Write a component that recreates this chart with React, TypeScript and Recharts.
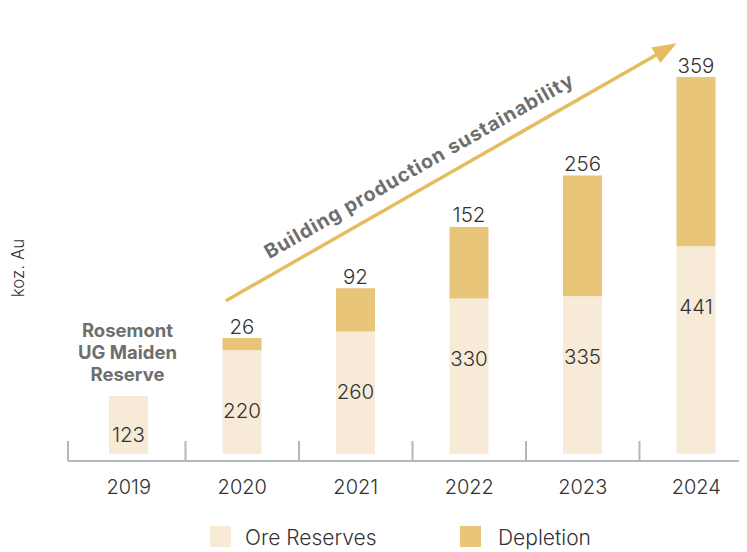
import React from "react";
import { BarChart, Bar, XAxis, YAxis, LabelList } from "recharts";

const years = ["2019", "2020", "2021", "2022", "2023", "2024"];
const oreReserves = [123, 220, 260, 330, 335, 441];
const depletion: (number | null)[] = [null, 26, 92, 152, 256, 359];
const seriesNames = ["Ore Reserves", "Depletion"];
const yAxisTitle = "koz. Au";
const arrowText = "Building production sustainability";
const noteLines = ["Rosemont", "UG Maiden", "Reserve"];

const data = years.map((y, i) => ({
  year: y,
  ore: oreReserves[i],
  dep: depletion[i],
}));

const FONT = "Inter, 'Noto Sans', sans-serif";
const ORE = "#f7ebd7";
const DEP = "#e9c57a";
const GOLD = "#e5bc5f";
const TEXT = "#333333";
const NOTE = "#6e6e6e";
const AXIS = "#b4b7bb";
const LIGHT = 300;

const CHART_W = 760;
const CHART_H = 552;
const M = { top: 30, right: 7, left: 72, bottom: 58 };
const BAND = (CHART_W - M.left - M.right) / years.length;

const Tick = (props: any) => {
  const { x, y, payload, index } = props;
  const left = x - BAND / 2;
  const right = x + BAND / 2;
  return (
    <g>
      <line x1={index === 0 ? left - 4 : left} x2={right} y1={y + 7} y2={y + 7} stroke={AXIS} strokeWidth={2} />
      <line x1={index === 0 ? left - 4 : left} x2={index === 0 ? left - 4 : left} y1={y - 13} y2={y + 7} stroke={AXIS} strokeWidth={2} />
      <text x={x} y={y + 33} textAnchor="middle" dominantBaseline="central" fontSize={20} fontWeight={LIGHT} fill={TEXT} fontFamily={FONT}>
        {payload.value}
      </text>
    </g>
  );
};

const OreLabel = (props: any) => {
  const { x, y, width, height, value } = props;
  if (value == null) return null;
  const cy = Math.min(y + 60, y + height - 20);
  return (
    <text x={x + width / 2} y={cy} textAnchor="middle" dominantBaseline="central" fontSize={20.5} fontWeight={LIGHT} fill={TEXT} fontFamily={FONT}>
      {value}
    </text>
  );
};

const DepLabel = (props: any) => {
  const { x, y, width, value } = props;
  if (!value) return null;
  return (
    <text x={x + width / 2} y={y - 12} textAnchor="middle" dominantBaseline="central" fontSize={20.5} fontWeight={LIGHT} fill={TEXT} fontFamily={FONT}>
      {value}
    </text>
  );
};

export default function App() {
  const ang = (Math.atan2(300.7 - 43.3, 676.7 - 226) * 180) / Math.PI;
  return (
    <div style={{ position: "relative", width: 747, height: 552, marginLeft: -8, marginTop: -8, overflow: "hidden", background: "#fff" }}>
      <BarChart width={CHART_W} height={CHART_H} data={data} margin={M} barSize={39}>
        <XAxis dataKey="year" axisLine={false} tickLine={false} tickSize={0} tickMargin={0} height={40} tick={<Tick />} interval={0} />
        <YAxis hide domain={[0, 900]} />
        <Bar dataKey="ore" stackId="a" fill={ORE} isAnimationActive={false}>
          <LabelList dataKey="ore" content={<OreLabel />} />
        </Bar>
        <Bar dataKey="dep" stackId="a" fill={DEP} isAnimationActive={false}>
          <LabelList dataKey="dep" content={<DepLabel />} />
        </Bar>
      </BarChart>
      <svg width={747} height={552} style={{ position: "absolute", left: 0, top: 0, pointerEvents: "none" }}>
        <defs>
          <linearGradient id="topline" x1="0" x2="1" y1="0" y2="0">
            <stop offset="0" stopColor="#f0d08c" />
            <stop offset="0.5" stopColor="#fde2a0" />
            <stop offset="1" stopColor="#d5b06c" />
          </linearGradient>
        </defs>
        <rect x={5} y={5} width={742} height={2} fill="url(#topline)" />
        <line x1={226} y1={300.7} x2={664} y2={50.5} stroke={GOLD} strokeWidth={3.5} />
        <g transform={`translate(676.7,43.3) rotate(${-ang})`}>
          <polygon points="0,0 -24,-9 -24,9" fill={GOLD} />
        </g>
        <text
          x={0}
          y={0}
          transform={`translate(422,172) rotate(${-ang})`}
          textAnchor="middle"
          fontSize={19.5}
          fontWeight={700}
          fill={NOTE}
          fontFamily={FONT}
          textLength={352}
          lengthAdjust="spacing"
        >
          {arrowText}
        </text>
        {noteLines.map((l, i) => (
          <text key={l} x={127.5} y={330 + i * 22} textAnchor="middle" dominantBaseline="central" fontSize={18.5} fontWeight={700} fill={NOTE} fontFamily={FONT}>
            {l}
          </text>
        ))}
        <text transform="translate(18,268) rotate(-90)" textAnchor="middle" dominantBaseline="central" fontSize={17} fontWeight={LIGHT} fill={TEXT} fontFamily={FONT}>
          {yAxisTitle}
        </text>
        <rect x={210} y={526} width={21} height={21} fill={ORE} />
        <text x={245} y={537} dominantBaseline="central" fontSize={21} fontWeight={LIGHT} fill={TEXT} fontFamily={FONT}>
          {seriesNames[0]}
        </text>
        <rect x={460} y={526} width={21} height={21} fill={DEP} />
        <text x={498} y={537} dominantBaseline="central" fontSize={21} fontWeight={LIGHT} fill={TEXT} fontFamily={FONT}>
          {seriesNames[1]}
        </text>
      </svg>
    </div>
  );
}
